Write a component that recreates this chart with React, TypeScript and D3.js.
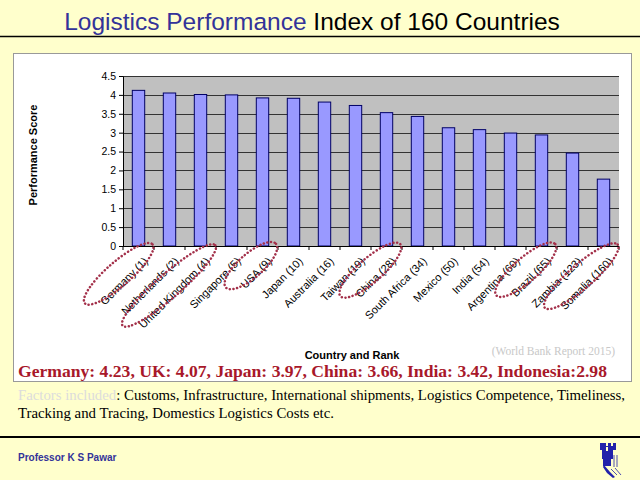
import React, { useRef, useEffect } from 'react';
import * as d3 from 'd3';

// LPI 2014 scores
const countries = [
  'Germany (1)', 'Netherlands (2)', 'United Kingdom (4)', 'Singapore (5)',
  'USA (9)', 'Japan (10)', 'Australia (16)', 'Taiwan (19)', 'China (28)',
  'South Africa (34)', 'Mexico (50)', 'India (54)', 'Argentina (60)',
  'Brazil (65)', 'Zambia (123)', 'Somalia (160)',
];
const scores = [4.12, 4.05, 4.01, 4.0, 3.92, 3.91, 3.81, 3.72, 3.53, 3.43, 3.13, 3.08, 2.99, 2.94, 2.46, 1.77];
const yTicks = [0, 0.5, 1, 1.5, 2, 2.5, 3, 3.5, 4, 4.5];
const circled = ['Germany (1)', 'United Kingdom (4)', 'USA (9)', 'China (28)', 'Brazil (65)', 'Somalia (160)'];

const titleBlue = 'Logistics Performance';
const titleBlack = ' Index of 160 Countries';
const highlight = 'Germany: 4.23, UK: 4.07, Japan: 3.97, China: 3.66, India: 3.42, Indonesia:2.98';
const factorsLead = 'Factors included';
const factorsLine1 = ': Customs, Infrastructure, International shipments, Logistics Competence, Timeliness,';
const factorsLine2 = 'Tracking and Tracing, Domestics Logistics Costs etc.';

const SANS = 'Arial, "Liberation Sans", sans-serif';
const SERIF = '"Times New Roman", "Liberation Serif", serif';

const App: React.FC = () => {
  const svgRef = useRef<SVGSVGElement | null>(null);

  useEffect(() => {
    if (!svgRef.current) return;
    const svg = d3.select(svgRef.current);
    svg.selectAll('*').remove();

    const width = 640;
    const height = 480;

    svg.append('rect').attr('width', width).attr('height', height).attr('fill', '#ffffcc');

    // title
    const title = svg.append('text')
      .attr('x', 312).attr('y', 30)
      .attr('text-anchor', 'middle')
      .style('font-family', SANS).style('font-size', '24.5px');
    title.append('tspan').attr('fill', '#333399').text(titleBlue);
    title.append('tspan').attr('fill', '#000').text(titleBlack);

    svg.append('line').attr('x1', 0).attr('x2', width).attr('y1', 36.5).attr('y2', 36.5)
      .attr('stroke', '#000').attr('stroke-width', 1.5);

    // chart box
    svg.append('rect').attr('x', 13.5).attr('y', 53.5).attr('width', 618).attr('height', 328)
      .attr('fill', '#fff').attr('stroke', '#999');

    const margin = { top: 76, left: 123, right: 21, bottom: 234 };
    const chartWidth = width - margin.left - margin.right;
    const chartHeight = height - margin.top - margin.bottom;

    const x = d3.scaleBand().domain(countries).range([0, chartWidth]).paddingInner(0.6).paddingOuter(0.3);
    const y = d3.scaleLinear().domain([0, 4.5]).range([chartHeight, 0]);

    const g = svg.append('g').attr('transform', `translate(${margin.left},${margin.top})`);

    g.append('rect').attr('width', chartWidth).attr('height', chartHeight).attr('fill', '#c0c0c0');

    g.append('g').selectAll('line').data(yTicks.filter(d => d > 0)).join('line')
      .attr('x1', 0).attr('x2', chartWidth)
      .attr('y1', d => Math.round(y(d)) + 0.5).attr('y2', d => Math.round(y(d)) + 0.5)
      .attr('stroke', '#333').attr('stroke-width', 1);

    g.append('g').selectAll('rect').data(scores).join('rect')
      .attr('x', (_, i) => x(countries[i]) as number)
      .attr('y', d => y(d))
      .attr('width', x.bandwidth())
      .attr('height', d => chartHeight - y(d))
      .attr('fill', '#9999ff')
      .attr('stroke', '#000066').attr('stroke-width', 1);

    // y axis
    const yAxis = g.append('g')
      .call(d3.axisLeft(y).tickValues(yTicks).tickSize(4).tickSizeOuter(0).tickFormat(d => String(d)));
    yAxis.select('.domain').attr('stroke', '#000');
    yAxis.selectAll('text').style('font-family', SANS).style('font-size', '10.5px').attr('fill', '#000');

    // x axis with ticks between categories
    const step = x.step();
    const edges = d3.range(countries.length + 1).map(i => (x(countries[0]) as number) - step * x.paddingInner() / 2 + i * step);
    g.append('line').attr('x1', 0).attr('x2', chartWidth).attr('y1', chartHeight + 0.5).attr('y2', chartHeight + 0.5)
      .attr('stroke', '#000');
    g.append('g').selectAll('line').data(edges).join('line')
      .attr('x1', d => d).attr('x2', d => d)
      .attr('y1', chartHeight).attr('y2', chartHeight + 4)
      .attr('stroke', '#000');

    const ax = (d: string) => (x(d) as number) + x.bandwidth() / 2 + 10;
    const ay = chartHeight + 16;
    const labels = g.append('g').selectAll('text').data(countries).join('text')
      .attr('transform', d => `translate(${ax(d)},${ay}) rotate(-45)`)
      .attr('text-anchor', 'end')
      .style('font-family', SANS).style('font-size', '11px')
      .text(d => d);

    // dotted ellipses around the circled labels
    labels.each(function (d) {
      if (!circled.includes(d)) return;
      const len = (this as SVGTextElement).getComputedTextLength();
      const cx = ax(d) - (len / 2) * Math.SQRT1_2 - 8;
      const cy = ay + (len / 2) * Math.SQRT1_2 - 10;
      g.append('ellipse')
        .attr('transform', `translate(${cx},${cy}) rotate(-41)`)
        .attr('rx', len / 2 + 14).attr('ry', 12)
        .attr('fill', 'none')
        .attr('stroke', '#a3304a').attr('stroke-width', 2.5)
        .attr('stroke-dasharray', '0.1 3.6').attr('stroke-linecap', 'round');
    });

    svg.append('text')
      .attr('transform', `translate(37,155) rotate(-90)`)
      .attr('text-anchor', 'middle')
      .style('font-family', SANS).style('font-size', '11px').style('font-weight', 'bold')
      .text('Performance Score');

    svg.append('text').attr('x', 352).attr('y', 359).attr('text-anchor', 'middle')
      .style('font-family', SANS).style('font-size', '11px').style('font-weight', 'bold')
      .text('Country and Rank');

    svg.append('text').attr('x', 615).attr('y', 355).attr('text-anchor', 'end')
      .attr('fill', '#c8c8c8')
      .style('font-family', SERIF).style('font-size', '11.5px')
      .text('(World Bank Report 2015)');

    svg.append('text').attr('x', 18).attr('y', 377)
      .attr('fill', '#a8182a')
      .style('font-family', SERIF).style('font-size', '17.6px').style('font-weight', 'bold')
      .text(highlight);

    const f1 = svg.append('text').attr('x', 18).attr('y', 400)
      .style('font-family', SERIF).style('font-size', '14.8px');
    f1.append('tspan').attr('fill', '#dcdcdc').text(factorsLead);
    f1.append('tspan').attr('fill', '#000').text(factorsLine1);
    svg.append('text').attr('x', 18).attr('y', 418)
      .style('font-family', SERIF).style('font-size', '14.8px')
      .text(factorsLine2);

    svg.append('line').attr('x1', 0).attr('x2', width).attr('y1', 437).attr('y2', 437)
      .attr('stroke', '#000').attr('stroke-width', 2);

    svg.append('text').attr('x', 18).attr('y', 461)
      .attr('fill', '#333399')
      .style('font-family', SANS).style('font-size', '10px').style('font-weight', 'bold')
      .text('Professor K S Pawar');

    // university logo, a small tower
    const logo = svg.append('g').attr('transform', 'translate(601,443)').attr('fill', '#2222aa');
    logo.append('path')
      .attr('d', 'M2,0 h3 v3 h2 v-3 h3 v3 h2 v-3 h3 v7 h-3 v9 h-2 v7 h-8 v-7 h-1 v-9 h-2 v-7 z M5,4 v4 h2 v-4 z');
    logo.append('path')
      .attr('d', 'M3,22 l6,7 l5,5 l-2,1 l-6,-5 l-4,-6 z');
    logo.append('path')
      .attr('d', 'M13,12 v12 M16,12 v12 M10,26 l6,6 M14,25 l6,7')
      .attr('stroke', '#2222aa').attr('stroke-width', 0.8).attr('fill', 'none');
  }, []);

  return (
    <div style={{ position: 'absolute', left: 0, top: 0 }}>
      <svg ref={svgRef} width={640} height={480} style={{ display: 'block' }} />
    </div>
  );
};

export default App;
